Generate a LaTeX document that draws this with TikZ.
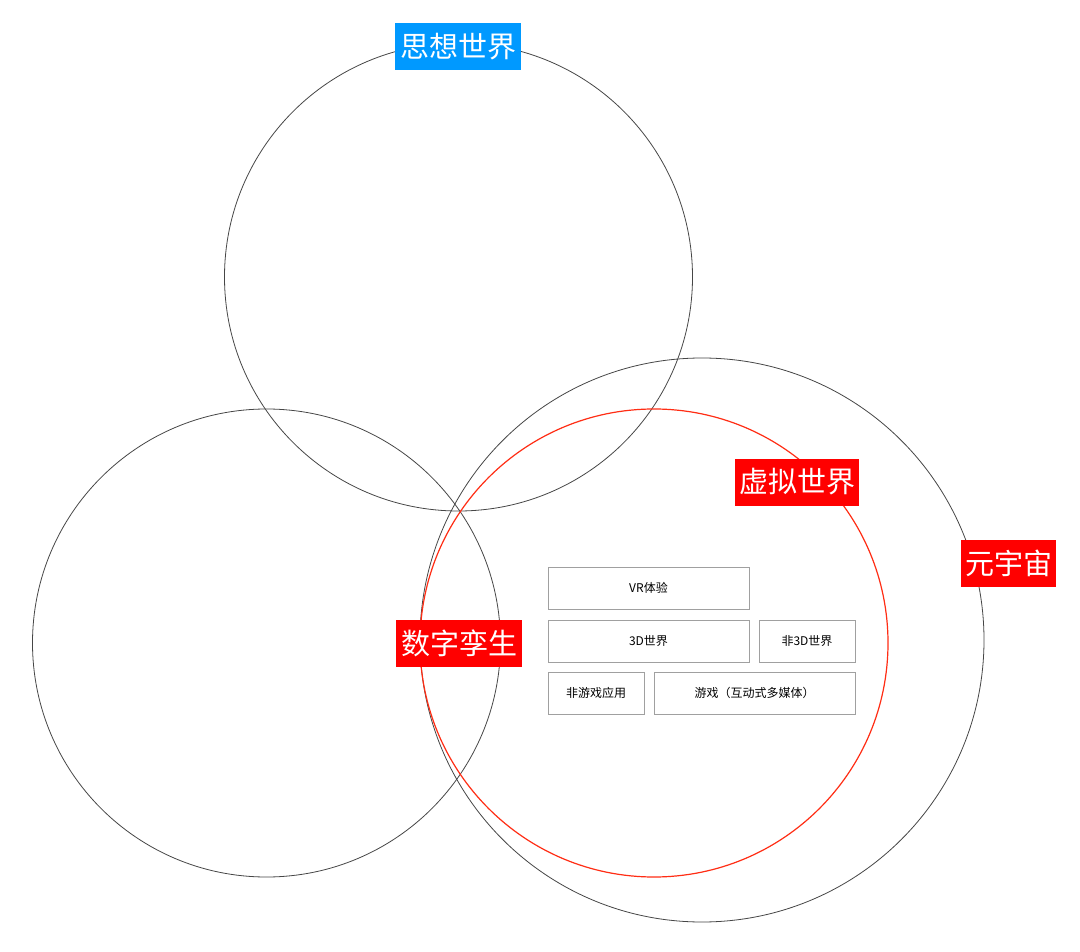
\documentclass[tikz,border=0pt]{standalone}
\usepackage{fontspec}
\newfontfamily\cjk{Noto Sans CJK SC}
\definecolor{lblblue}{RGB}{0,153,255}
\definecolor{lblred}{RGB}{255,0,0}
\definecolor{circred}{RGB}{255,45,20}
\definecolor{circgray}{RGB}{70,70,70}
\definecolor{boxgray}{RGB}{160,160,160}
\begin{document}
\begin{tikzpicture}[x=1pt,y=-1pt,
  ring/.style={draw=circgray,line width=0.8pt,circle,inner sep=0pt,fill=none},
  redring/.style={draw=circred,line width=1.2pt,circle,inner sep=0pt,fill=none},
  bigtag/.style={inner sep=0pt,text=white,font=\cjk\fontsize{29}{31}\selectfont,minimum height=47pt},
  itembox/.style={draw=boxgray,line width=0.8pt,inner sep=0pt,minimum height=42pt,font=\cjk\fontsize{12}{14}\selectfont,text=black}]
\useasboundingbox (0,0) rectangle (1080,952);
\fill[white] (0,0) rectangle (1080,952);
\node[ring,minimum size=468pt] (think) at (458.5,277) {};
\node[ring,minimum size=468pt] (twin) at (266.5,643) {};
\node[ring,minimum size=564pt] (meta) at (702,640) {};
\node[redring,minimum size=468pt] (virt) at (654,643) {};
\node[bigtag,fill=lblblue,minimum width=126pt] (t1) at (458,47) {思想世界};
\node[bigtag,fill=lblred,minimum width=124pt] (t2) at (797,482) {虚拟世界};
\node[bigtag,fill=lblred,minimum width=95pt] (t3) at (1008.5,563) {元宇宙};
\node[bigtag,fill=lblred,minimum width=126pt] (t4) at (459,643) {数字孪生};
\node[itembox,minimum width=201pt] (vr) at (648.5,588) {VR体验};
\node[itembox,minimum width=201pt] (w3d) at (648.5,641) {3D世界};
\node[itembox,minimum width=96pt] (n3d) at (807,641) {非3D世界};
\node[itembox,minimum width=96pt] (ngame) at (596,693) {非游戏应用};
\node[itembox,minimum width=201pt] (game) at (754.5,693) {游戏（互动式多媒体）};
\end{tikzpicture}
\end{document}
